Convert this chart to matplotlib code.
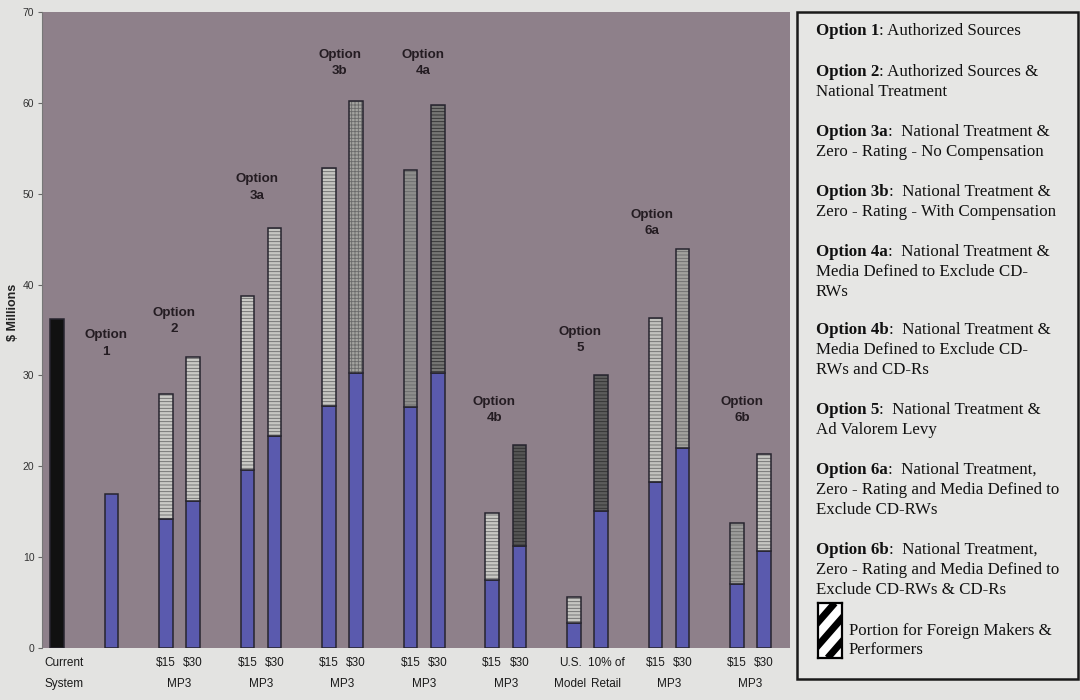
import matplotlib
matplotlib.use("Agg")
import matplotlib.pyplot as plt
from matplotlib import font_manager
from matplotlib.patches import Rectangle
import numpy as np

# ---- data ($ millions) ----
groups = ["Current System", "Option 1", "Option 2", "Option 3a", "Option 3b",
          "Option 4a", "Option 4b", "Option 5", "Option 6a", "Option 6b"]
group_tags = ["", "1", "2", "3a", "3b", "4a", "4b", "5", "6a", "6b"]
# domestic portion of each bar (solid part)
domestic = [[36.2], [16.9], [14.2, 16.2], [19.6, 23.3], [26.6, 30.3],
            [26.5, 30.3], [7.5, 11.2], [2.8, 15.1], [18.3, 22.0], [7.0, 10.7]]
# portion for foreign makers & performers (stacked on top)
foreign = [[0.0], [0.0], [13.8, 15.8], [19.1, 22.9], [26.2, 29.9],
           [26.1, 29.5], [7.4, 11.1], [2.8, 14.9], [18.0, 21.9], [6.8, 10.6]]
bar_top_labels = [["Current"], [""], ["$15", "$30"], ["$15", "$30"], ["$15", "$30"],
                  ["$15", "$30"], ["$15", "$30"], ["U.S.", "10% of"], ["$15", "$30"],
                  ["$15", "$30"]]
bar_bottom_labels = [["System"], [""], ["", ""], ["", ""], ["", ""], ["", ""],
                     ["", ""], ["Model", "Retail"], ["", ""], ["", ""]]
group_captions = ["", "", "MP3", "MP3", "MP3", "MP3", "MP3", "", "MP3", "MP3"]

legend_items = [
    ("Option 1", ": Authorized Sources", []),
    ("Option 2", ": Authorized Sources &", ["National Treatment"]),
    ("Option 3a", ":  National Treatment &", ["Zero - Rating - No Compensation"]),
    ("Option 3b", ":  National Treatment &", ["Zero - Rating - With Compensation"]),
    ("Option 4a", ":  National Treatment &", ["Media Defined to Exclude CD-", "RWs"]),
    ("Option 4b", ":  National Treatment &", ["Media Defined to Exclude CD-", "RWs and CD-Rs"]),
    ("Option 5", ":  National Treatment &", ["Ad Valorem Levy"]),
    ("Option 6a", ":  National Treatment,", ["Zero - Rating and Media Defined to", "Exclude CD-RWs"]),
    ("Option 6b", ":  National Treatment,", ["Zero - Rating and Media Defined to", "Exclude CD-RWs & CD-Rs"]),
]
key_label = ["Portion for Foreign Makers &", "Performers"]

# ---- styling ----
foreign_faces = [[None], [None], ["#cacac6", "#cacac6"], ["#cacac6", "#c6c6c2"],
                 ["#c6c6c2", "#a4a4a0"], ["#8e8e8c", "#767674"], ["#c8c8c4", "#555555"],
                 ["#c6c6c2", "#5c5c5c"], ["#c2c2be", "#a2a29e"], ["#9c9c9a", "#c6c6c2"]]
foreign_hatch = [[None], [None], ["-----", "-----"], ["-----", "-----"],
                 ["-----", "+++++"], ["-----", "-----"], ["-----", "-----"],
                 ["-----", "-----"], ["-----", "-----"], ["-----", "-----"]]
label_heights = [33.5, 36.0, 50.7, 64.4, 64.4, 26.2, 33.9, 46.8, 26.2]
label_shift = [-0.2, -0.2, -0.15, -0.1, -0.05, -0.42, -0.26, -0.64, -0.31]
# horizontal nudge of the category text under each bar (in bar slots)
tick_nudge = [[0.0], [0.0], [0, 0], [0, 0], [0, 0], [0, 0], [0, 0],
              [-0.12, 0.2], [0, 0], [0, 0]]

names = {f.name for f in font_manager.fontManager.ttflist}
NARROW = "Liberation Sans Narrow" in names
SANS = "Liberation Sans Narrow" if NARROW else "Liberation Sans"
SERIF = "Liberation Serif"
TICK_FS = 10 if NARROW else 8.5
OPT_FS = 11 if NARROW else 9.6

FIG_BG = "#e3e3e1"
PLOT_BG = "#8e808a"
BLUE = "#5a5aae"
EDGE = "#26242e"

plt.rcParams["hatch.linewidth"] = 0.6

fig = plt.figure(figsize=(10.8, 7.0), dpi=100, facecolor=FIG_BG)
ax = fig.add_axes([42 / 1080, 52 / 700, 748 / 1080, 636 / 700])
ax.set_facecolor(PLOT_BG)

width = 0.5
start = 0
for gi, (dom, frn) in enumerate(zip(domestic, foreign)):
    n = len(dom)
    xs = start + np.arange(n)
    for k, x in enumerate(xs):
        face = "#111111" if gi == 0 else BLUE
        ax.bar(x, dom[k], width=width, color=face, edgecolor=EDGE, linewidth=1.1, zorder=3)
        if frn[k] > 0:
            fc = foreign_faces[gi][k]
            dark = fc in ("#555555", "#5c5c5c", "#767674")
            ax.bar(x, frn[k], bottom=dom[k], width=width, color=fc,
                   hatch=foreign_hatch[gi][k], edgecolor="#2e2e2e" if dark else "#6a6a6a",
                   linewidth=0, zorder=3)
            ax.bar(x, frn[k], bottom=dom[k], width=width, fill=False,
                   edgecolor=EDGE, linewidth=1.1, zorder=4)
        # category labels under each bar
        top_txt = bar_top_labels[gi][k]
        bot_txt = bar_bottom_labels[gi][k]
        ha = "left" if gi == 0 else "center"
        tx = (x - 0.45 if gi == 0 else x) + tick_nudge[gi][k]
        if top_txt:
            ax.text(tx, -0.024, top_txt, transform=ax.get_xaxis_transform(),
                    ha=ha, va="center", fontsize=TICK_FS, family=SANS, color="#1a1a1a")
        if bot_txt:
            ax.text(tx, -0.057, bot_txt, transform=ax.get_xaxis_transform(),
                    ha=ha, va="center", fontsize=TICK_FS, family=SANS, color="#1a1a1a")
    if group_captions[gi]:
        ax.text(xs.mean(), -0.057, group_captions[gi], transform=ax.get_xaxis_transform(),
                ha="center", va="center", fontsize=TICK_FS, family=SANS, color="#1a1a1a")
    if gi > 0:
        ax.text(xs.mean() + label_shift[gi - 1], label_heights[gi - 1],
                "Option\n" + group_tags[gi], ha="center", va="center",
                fontsize=OPT_FS, fontweight="bold", family=SANS, color="#241c22",
                linespacing=1.5, zorder=5)
    start += n + 1

ax.set_xlim(-0.55, start - 1.05)
ax.set_ylim(0, 70)
ax.set_yticks(np.arange(0, 71, 10))
ax.set_xticks([])
ax.tick_params(axis="y", length=3, width=0.8, color="#666666", labelsize=7.5,
               labelcolor="#333333", pad=2.5)
for lab in ax.get_yticklabels():
    lab.set_family(SANS)
for side in ["top", "right", "bottom"]:
    ax.spines[side].set_visible(False)
ax.spines["left"].set_color("#777777")
ax.spines["left"].set_linewidth(0.8)
fig.text(13 / 1080, 1 - 312 / 700, "$ Millions", rotation=90, ha="center", va="center",
         fontsize=9, fontweight="bold", family="Liberation Sans", color="#222222")

# ---- description box ----
fig.patches.append(Rectangle((797 / 1080, 1 - 679 / 700), 281 / 1080, 667 / 700,
                             transform=fig.transFigure, facecolor="#e6e6e4",
                             edgecolor="#1a1a1a", linewidth=1.8, zorder=1))
tx0 = 816 / 1080
item_y = [31, 72, 132, 192, 252, 330, 410, 470, 550]
line_gap = 19.8
for (bold, rest, more), ypx in zip(legend_items, item_y):
    t1 = fig.text(tx0, 1 - ypx / 700, bold, fontsize=12.2, fontweight="bold",
                  family=SERIF, va="center", ha="left", color="#111111", zorder=3)
    fig.add_artist(matplotlib.text.Annotation(
        rest, xy=(1, 0.5), xycoords=t1, va="center", ha="left",
        fontsize=12.2, family=SERIF, color="#111111", zorder=3))
    for j, line in enumerate(more):
        fig.text(tx0, 1 - (ypx + line_gap * (j + 1)) / 700, line, fontsize=12.2,
                 family=SERIF, va="center", ha="left", color="#111111", zorder=3)

# striped key swatch
kax = fig.add_axes([818 / 1080, 1 - 658 / 700, 24 / 1080, 55 / 700], zorder=5)
kax.set_xlim(0, 1)
kax.set_ylim(0, 2.3)
kax.set_facecolor("white")
for s in np.arange(-3, 3, 0.85):
    kax.plot([s, s + 2], [0, 2.3], color="black", linewidth=5, solid_capstyle="butt")
kax.set_xticks([])
kax.set_yticks([])
for sp in kax.spines.values():
    sp.set_linewidth(1.6)
for j, line in enumerate(key_label):
    fig.text(849 / 1080, 1 - (631 + 19.5 * j) / 700, line, fontsize=12.2,
             family=SERIF, va="center", ha="left", color="#111111", zorder=3)

fig.savefig("out.png", dpi=100, facecolor=FIG_BG)
